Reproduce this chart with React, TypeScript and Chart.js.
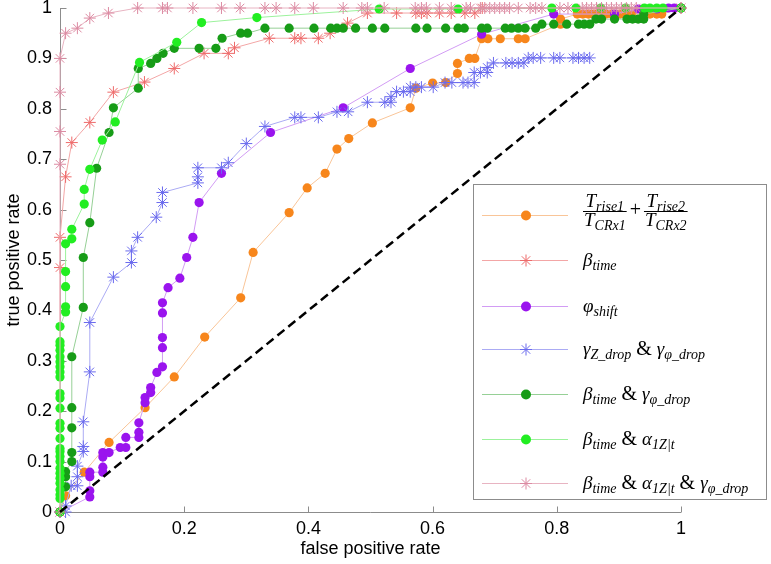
import { useEffect, useRef } from 'react';
import { Chart, registerables } from 'chart.js';

Chart.register(...registerables);

// ---------- tick values ----------
const xTickValues = [0, 0.2, 0.4, 0.6, 0.8, 1];
const yTickValues = [0, 0.1, 0.2, 0.3, 0.4, 0.5, 0.6, 0.7, 0.8, 0.9, 1];

// ---------- series data (false positive rate / true positive rate) ----------
// Trise1/TCRx1 + Trise2/TCRx2 (orange)
const riseFpr = [0, 0.009, 0.039, 0.079, 0.137, 0.184, 0.233, 0.291, 0.311, 0.369, 0.398, 0.427, 0.446, 0.465, 0.503, 0.564, 0.573, 0.6, 0.621, 0.64, 0.64, 0.659, 0.668, 0.679, 0.689, 0.709, 0.738, 0.749, 0.806, 0.806, 0.833, 0.842, 0.851, 0.86, 0.87, 0.879, 0.889, 0.902, 0.911, 0.92, 0.95, 0.961, 0.969, 1];
const riseTpr = [0, 0.032, 0.079, 0.138, 0.207, 0.268, 0.347, 0.425, 0.515, 0.594, 0.643, 0.672, 0.72, 0.741, 0.772, 0.802, 0.841, 0.851, 0.852, 0.87, 0.89, 0.9, 0.9, 0.939, 0.939, 0.939, 0.939, 0.939, 0.968, 0.978, 0.988, 0.988, 0.988, 0.988, 0.988, 0.988, 0.988, 0.988, 0.988, 0.988, 0.988, 0.988, 0.988, 1];

// beta_time (red stars)
const betaFpr = [0, 0, 0, 0.009, 0.019, 0.048, 0.086, 0.136, 0.184, 0.232, 0.271, 0.281, 0.337, 0.378, 0.388, 0.416, 0.435, 0.463, 0.495, 0.542, 0.573, 0.582, 0.591, 0.611, 0.63, 0.652, 0.668, 0.68, 1];
const betaTpr = [0, 0.485, 0.545, 0.665, 0.733, 0.773, 0.833, 0.853, 0.88, 0.91, 0.91, 0.921, 0.94, 0.94, 0.94, 0.94, 0.95, 0.97, 0.99, 0.99, 0.99, 0.99, 0.99, 0.99, 0.99, 0.99, 0.99, 1, 1];

// phi_shift (purple)
const phiFpr = [0, 0.048, 0.048, 0.048, 0.048, 0.069, 0.069, 0.069, 0.069, 0.079, 0.097, 0.106, 0.106, 0.127, 0.127, 0.127, 0.137, 0.137, 0.146, 0.146, 0.156, 0.165, 0.165, 0.165, 0.165, 0.165, 0.174, 0.193, 0.204, 0.214, 0.224, 0.26, 0.339, 0.456, 0.564, 0.679, 0.795, 0.893, 0.931, 0.961, 0.98, 0.989, 1];
const phiTpr = [0, 0.03, 0.042, 0.07, 0.079, 0.079, 0.089, 0.109, 0.118, 0.118, 0.128, 0.128, 0.148, 0.148, 0.158, 0.177, 0.217, 0.227, 0.237, 0.247, 0.277, 0.288, 0.326, 0.346, 0.395, 0.415, 0.445, 0.464, 0.505, 0.545, 0.614, 0.672, 0.753, 0.802, 0.88, 0.948, 0.988, 0.988, 0.998, 0.998, 1, 1, 1];

// gamma_Z_drop & gamma_phi_drop (blue stars)
const gammaFpr = [0, 0.009, 0.009, 0.018, 0.028, 0.028, 0.028, 0.0375, 0.0375, 0.0375, 0.048, 0.048, 0.086, 0.115, 0.115, 0.125, 0.155, 0.165, 0.165, 0.222, 0.222, 0.222, 0.26, 0.271, 0.3, 0.33, 0.378, 0.388, 0.416, 0.446, 0.464, 0.495, 0.523, 0.533, 0.533, 0.542, 0.553, 0.564, 0.564, 0.573, 0.582, 0.601, 0.62, 0.631, 0.649, 0.657, 0.667, 0.667, 0.677, 0.688, 0.688, 0.698, 0.718, 0.728, 0.738, 0.747, 0.754, 0.762, 0.774, 0.795, 0.805, 0.826, 0.835, 0.844, 0.853];
const gammaTpr = [0, 0, 0.012, 0.052, 0.052, 0.07, 0.091, 0.12, 0.13, 0.179, 0.278, 0.376, 0.466, 0.495, 0.518, 0.545, 0.585, 0.614, 0.634, 0.653, 0.665, 0.683, 0.683, 0.693, 0.731, 0.765, 0.783, 0.783, 0.783, 0.794, 0.794, 0.813, 0.813, 0.813, 0.824, 0.834, 0.834, 0.834, 0.843, 0.843, 0.843, 0.843, 0.852, 0.852, 0.852, 0.852, 0.852, 0.872, 0.872, 0.872, 0.882, 0.891, 0.891, 0.891, 0.891, 0.891, 0.901, 0.901, 0.901, 0.901, 0.901, 0.901, 0.901, 0.901, 0.901];

// beta_time & gamma_phi_drop (dark green)
const betaGammaFpr = [0, 0.009, 0.009, 0.009, 0.019, 0.019, 0.019, 0.019, 0.019, 0.0375, 0.0375, 0.048, 0.059, 0.079, 0.086, 0.126, 0.126, 0.146, 0.156, 0.166, 0.184, 0.224, 0.251, 0.261, 0.291, 0.302, 0.33, 0.369, 0.409, 0.436, 0.446, 0.456, 0.476, 0.503, 0.523, 0.573, 0.591, 0.621, 0.641, 0.651, 0.679, 0.688, 0.717, 0.727, 0.738, 0.749, 0.766, 0.776, 0.795, 0.816, 0.835, 0.844, 0.853, 0.863, 0.872, 0.893, 0.913, 0.922, 0.931, 0.94, 0.94, 1];
const betaGammaTpr = [0, 0.05, 0.07, 0.08, 0.1, 0.118, 0.167, 0.207, 0.308, 0.406, 0.505, 0.574, 0.682, 0.753, 0.802, 0.841, 0.88, 0.89, 0.9, 0.91, 0.92, 0.92, 0.92, 0.94, 0.95, 0.95, 0.96, 0.96, 0.96, 0.96, 0.96, 0.96, 0.96, 0.96, 0.96, 0.96, 0.96, 0.96, 0.96, 0.96, 0.96, 0.96, 0.96, 0.96, 0.96, 0.96, 0.96, 0.968, 0.968, 0.968, 0.968, 0.968, 0.968, 0.978, 0.978, 0.978, 0.978, 0.978, 0.978, 0.978, 0.988, 1];

// beta_time & alpha_1Z|t (bright green)
const betaAlphaFpr = [0, 0, 0, 0, 0, 0, 0, 0, 0, 0, 0, 0, 0, 0, 0, 0, 0, 0, 0, 0, 0, 0, 0, 0, 0, 0, 0, 0.009, 0.009, 0.009, 0.009, 0.009, 0.019, 0.019, 0.039, 0.039, 0.048, 0.068, 0.089, 0.128, 0.188, 0.228, 0.317, 0.514, 0.641, 0.792, 0.831, 0.871, 0.911, 0.941, 0.95, 0.961, 0.971, 1];
const betaAlphaTpr = [0, 0.027, 0.034, 0.044, 0.057, 0.067, 0.077, 0.087, 0.1, 0.11, 0.12, 0.126, 0.146, 0.166, 0.176, 0.206, 0.226, 0.235, 0.268, 0.278, 0.288, 0.298, 0.308, 0.321, 0.331, 0.338, 0.368, 0.397, 0.407, 0.447, 0.477, 0.532, 0.542, 0.561, 0.611, 0.64, 0.68, 0.738, 0.774, 0.892, 0.932, 0.971, 0.981, 0.998, 0.998, 1, 1, 1, 1, 1, 1, 1, 1, 1];

// beta_time & alpha_1Z|t & gamma_phi_drop (pink stars)
const allFpr = [0, 0, 0, 0, 0, 0.009, 0.028, 0.048, 0.078, 0.125, 0.165, 0.173, 0.214, 0.26, 0.29, 0.33, 0.348, 0.378, 0.408, 0.456, 0.486, 0.495, 0.522, 0.572, 0.582, 0.59, 0.611, 0.63, 0.654, 0.661, 0.677, 0.684, 0.692, 0.7, 0.708, 0.716, 0.724, 0.738, 0.757, 0.766, 0.776, 0.805, 0.818, 0.841, 0.848, 0.856, 0.864, 0.872, 0.88, 0.888, 0.896, 0.904, 0.912, 0.92, 0.928, 1];
const allTpr = [0, 0.69, 0.755, 0.833, 0.9, 0.95, 0.96, 0.98, 0.99, 1, 1, 1, 1, 1, 1, 1, 1, 1, 1, 1, 1, 1, 1, 1, 1, 1, 1, 1, 1, 1, 1, 1, 1, 1, 1, 1, 1, 1, 1, 1, 1, 1, 1, 1, 1, 1, 1, 1, 1, 1, 1, 1, 1, 1, 1, 1];

// chance diagonal
const chanceFpr = [0, 1];
const chanceTpr = [0, 1];

// ---------- styles ----------
const seriesFpr = [riseFpr, betaFpr, phiFpr, gammaFpr, betaGammaFpr, betaAlphaFpr, allFpr];
const seriesTpr = [riseTpr, betaTpr, phiTpr, gammaTpr, betaGammaTpr, betaAlphaTpr, allTpr];
const markerColors = ['#f7861c', '#ee6a6a', '#9a14ee', '#6a6aee', '#179c17', '#22ee22', '#dc8aa2'];
const lineColors = ['#f9c598', '#f3a6a6', '#d29cf4', '#ababf4', '#96d096', '#9cf29c', '#e8b4c2'];
const markerStyles = ['circle', 'star', 'circle', 'star', 'circle', 'circle', 'star'];

const TICK_FONT = '"Liberation Sans", Arial, sans-serif';
const MATH_FONT = '"Liberation Serif", "Times New Roman", serif';
const AXIS_COLOR = '#8c8c8c';

type Seg = { t: string; sub?: boolean; up?: boolean };
const legendBeta: Seg[] = [{ t: 'β' }, { t: 'time', sub: true }];
const legendPhi: Seg[] = [{ t: 'φ' }, { t: 'shift', sub: true }];
const legendGamma: Seg[] = [{ t: 'γ' }, { t: 'Z_drop', sub: true }, { t: ' & ', up: true }, { t: 'γ' }, { t: 'φ_drop', sub: true }];
const legendBetaGamma: Seg[] = [{ t: 'β' }, { t: 'time', sub: true }, { t: ' & ', up: true }, { t: 'γ' }, { t: 'φ_drop', sub: true }];
const legendBetaAlpha: Seg[] = [{ t: 'β' }, { t: 'time', sub: true }, { t: ' & ', up: true }, { t: 'α' }, { t: '1Z|t', sub: true }];
const legendAll: Seg[] = [{ t: 'β' }, { t: 'time', sub: true }, { t: ' & ', up: true }, { t: 'α' }, { t: '1Z|t', sub: true }, { t: ' & ', up: true }, { t: 'γ' }, { t: 'φ_drop', sub: true }];
const legendLabels: (Seg[] | null)[] = [null, legendBeta, legendPhi, legendGamma, legendBetaGamma, legendBetaAlpha, legendAll];
const fracNum1: Seg[] = [{ t: 'T' }, { t: 'rise1', sub: true }];
const fracDen1: Seg[] = [{ t: 'T' }, { t: 'CRx1', sub: true }];
const fracNum2: Seg[] = [{ t: 'T' }, { t: 'rise2', sub: true }];
const fracDen2: Seg[] = [{ t: 'T' }, { t: 'CRx2', sub: true }];

const MAIN_SIZE = 19;
const SUB_SIZE = 14;
const AMP_SIZE = 20;

function segFont(s: Seg) {
  if (s.up) return `${AMP_SIZE}px ${MATH_FONT}`;
  return `italic ${s.sub ? SUB_SIZE : MAIN_SIZE}px ${MATH_FONT}`;
}
function measureSegs(ctx: CanvasRenderingContext2D, segs: Seg[]) {
  let w = 0;
  for (const s of segs) {
    ctx.font = segFont(s);
    w += ctx.measureText(s.t).width;
  }
  return w;
}
function drawSegs(ctx: CanvasRenderingContext2D, segs: Seg[], x: number, base: number) {
  for (const s of segs) {
    ctx.font = segFont(s);
    ctx.fillText(s.t, x, s.sub ? base + 4 : base);
    x += ctx.measureText(s.t).width;
  }
  return x;
}

function drawMarker(ctx: CanvasRenderingContext2D, style: string, x: number, y: number, color: string) {
  if (style === 'circle') {
    ctx.fillStyle = color;
    ctx.beginPath();
    ctx.arc(x, y, 5, 0, Math.PI * 2);
    ctx.fill();
  } else {
    const r = 6;
    const d = r * Math.SQRT1_2;
    ctx.strokeStyle = color;
    ctx.lineWidth = 1;
    ctx.beginPath();
    ctx.moveTo(x - r, y); ctx.lineTo(x + r, y);
    ctx.moveTo(x, y - r); ctx.lineTo(x, y + r);
    ctx.moveTo(x - d, y - d); ctx.lineTo(x + d, y + d);
    ctx.moveTo(x - d, y + d); ctx.lineTo(x + d, y - d);
    ctx.stroke();
  }
}

const axesPlugin = {
  id: 'matlabAxes',
  beforeDatasetsDraw(chart: any) {
    const { ctx, chartArea, scales } = chart;
    const L = Math.round(chartArea.left) + 0.5;
    const B = Math.round(chartArea.bottom) + 0.5;
    ctx.save();
    ctx.strokeStyle = AXIS_COLOR;
    ctx.lineWidth = 1;
    ctx.beginPath();
    ctx.moveTo(L, chartArea.top);
    ctx.lineTo(L, B);
    ctx.lineTo(chartArea.right, B);
    for (const v of xTickValues) {
      const px = Math.round(scales.x.getPixelForValue(v)) + 0.5;
      ctx.moveTo(px, B);
      ctx.lineTo(px, B - 6);
    }
    for (const v of yTickValues) {
      const py = Math.round(scales.y.getPixelForValue(v)) + 0.5;
      ctx.moveTo(L, py);
      ctx.lineTo(L + 6, py);
    }
    ctx.stroke();
    ctx.restore();
  },
};

const legendRowsY = [215, 260, 306, 349, 394, 439, 483];

const legendPlugin = {
  id: 'mathLegend',
  afterDraw(chart: any) {
    const ctx: CanvasRenderingContext2D = chart.ctx;
    ctx.save();
    ctx.fillStyle = '#ffffff';
    ctx.fillRect(473, 184, 294, 316);
    ctx.strokeStyle = '#8c8c8c';
    ctx.lineWidth = 1;
    ctx.strokeRect(473.5, 184.5, 293, 315);
    ctx.textBaseline = 'alphabetic';
    ctx.textAlign = 'left';
    legendRowsY.forEach((ry, i) => {
      ctx.strokeStyle = lineColors[i];
      ctx.lineWidth = 1;
      ctx.beginPath();
      ctx.moveTo(482, ry + 0.5);
      ctx.lineTo(568, ry + 0.5);
      ctx.stroke();
      drawMarker(ctx, markerStyles[i], 526, ry + 0.5, markerColors[i]);
      ctx.fillStyle = '#000';
      const lbl = legendLabels[i];
      if (lbl) {
        drawSegs(ctx, lbl, 583, ry + 6);
      } else {
        let x = 583;
        const drawFrac = (num: Seg[], den: Seg[]) => {
          const wn = measureSegs(ctx, num);
          const wd = measureSegs(ctx, den);
          const w = Math.max(wn, wd) + 2;
          drawSegs(ctx, num, x + (w - wn) / 2, ry - 8);
          drawSegs(ctx, den, x + (w - wd) / 2, ry + 11);
          ctx.fillRect(x, ry - 4, w, 1);
          x += w;
        };
        drawFrac(fracNum1, fracDen1);
        ctx.font = `${AMP_SIZE}px ${MATH_FONT}`;
        ctx.fillText('+', x + 3, ry + 1);
        x += ctx.measureText('+').width + 6;
        drawFrac(fracNum2, fracDen2);
      }
    });
    ctx.restore();
  },
};

export default function App() {
  const ref = useRef<HTMLCanvasElement | null>(null);
  useEffect(() => {
    if (!ref.current) return;
    const datasets: any[] = seriesFpr.map((fpr, i) => ({
      label: `s${i}`,
      data: fpr.map((x, j) => ({ x, y: seriesTpr[i][j] })),
      showLine: true,
      borderColor: lineColors[i],
      borderWidth: 1,
      backgroundColor: markerColors[i],
      pointStyle: markerStyles[i],
      pointRadius: markerStyles[i] === 'circle' ? 4.6 : 6,
      pointBorderWidth: markerStyles[i] === 'circle' ? 0 : 1,
      pointBorderColor: markerColors[i],
      pointBackgroundColor: markerColors[i],
      tension: 0,
      clip: false,
      order: -i,
    }));
    datasets.push({
      label: 'chance',
      data: chanceFpr.map((x, j) => ({ x, y: chanceTpr[j] })),
      showLine: true,
      borderColor: '#000',
      borderWidth: 2.5,
      borderDash: [9, 5],
      pointRadius: 0,
      clip: false,
      order: -20,
    });
    const fmt = (v: any) => String(Math.round(Number(v) * 10) / 10);
    const chart = new Chart(ref.current, {
      type: 'scatter',
      data: { datasets },
      options: {
        responsive: false,
        animation: false,
        devicePixelRatio: 1,
        layout: { padding: { top: 8, right: 90, left: 0, bottom: 0 } },
        plugins: { legend: { display: false }, tooltip: { enabled: false } },
        scales: {
          x: {
            type: 'linear',
            min: 0,
            max: 1,
            grid: { display: false },
            border: { display: false },
            afterBuildTicks: (s: any) => { s.ticks = xTickValues.map((v) => ({ value: v })); },
            ticks: { autoSkip: false, maxRotation: 0, padding: -2, color: '#000', font: { family: TICK_FONT, size: 18 }, callback: fmt },
            title: { display: true, text: 'false positive rate', color: '#000', font: { family: TICK_FONT, size: 18 }, padding: 4 },
            afterFit: (s: any) => { s.height = 52; s.paddingLeft = 0; s.paddingRight = 0; },
          },
          y: {
            type: 'linear',
            min: 0,
            max: 1,
            grid: { display: false },
            border: { display: false },
            afterBuildTicks: (s: any) => { s.ticks = yTickValues.map((v) => ({ value: v })); },
            ticks: { autoSkip: false, padding: 0, color: '#000', font: { family: TICK_FONT, size: 18 }, callback: fmt },
            title: { display: true, text: 'true positive rate', color: '#000', font: { family: TICK_FONT, size: 18 }, padding: 3 },
            afterFit: (s: any) => { s.width = 60; s.paddingTop = 0; s.paddingBottom = 0; },
          },
        },
      } as any,
      plugins: [axesPlugin, legendPlugin],
    });
    return () => chart.destroy();
  }, []);
  return (
    <div style={{ position: 'absolute', left: 0, top: 0, width: 771, height: 564, background: '#fff' }}>
      <canvas ref={ref} width={771} height={564} style={{ width: 771, height: 564 }} />
    </div>
  );
}
